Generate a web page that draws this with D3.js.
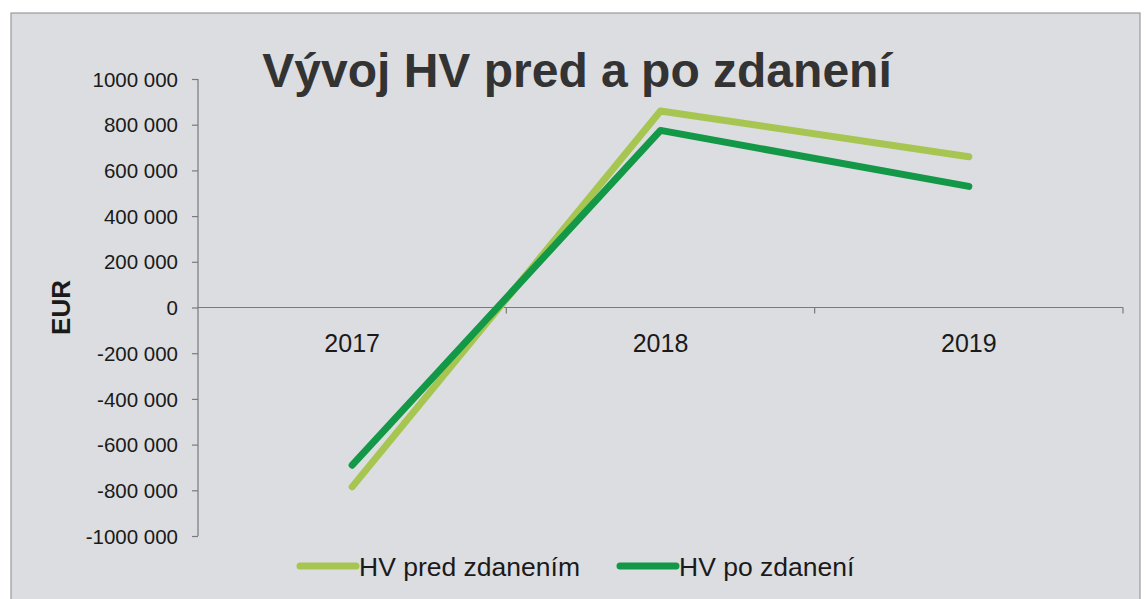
<!doctype html>
<html>
  <head>
    <meta charset="utf-8">
    <script src="https://cdnjs.cloudflare.com/ajax/libs/d3/7.8.5/d3.min.js"></script>
    <style>
      body { margin: 0; background: #fff; }
      text { font-family: "Liberation Sans", Arial, sans-serif; fill: #1a1a1a; }
      .title { font-size: 48px; font-weight: bold; fill: #333; text-anchor: middle; }
      .ylab { font-size: 20.5px; text-anchor: end; }
      .year { font-size: 25px; text-anchor: middle; }
      .legend text { font-size: 26.5px; }
      .axis line, .axis path { stroke: #7a7a7a; stroke-width: 1.2px; fill: none; }
    </style>
  </head>
  <body>
    <svg width="1146" height="599"></svg>
    <script>
      var years = ["2017", "2018", "2019"];
      var seriesNames = ["HV pred zdanením", "HV po zdanení"];
      var hvPred = [-785000, 860000, 660000];
      var hvPo = [-690000, 775000, 530000];
      var yTicks = [1000000, 800000, 600000, 400000, 200000, 0, -200000, -400000, -600000, -800000, -1000000];
      var yTickLabels = ["1000 000", "800 000", "600 000", "400 000", "200 000", "0",
                         "-200 000", "-400 000", "-600 000", "-800 000", "-1000 000"];
      var colors = ["#a6c651", "#129847"];

      var svg = d3.select("svg");

      // scanned page frame
      svg.append("rect")
        .attr("x", 11).attr("y", 13)
        .attr("width", 1129).attr("height", 600)
        .attr("fill", "#dcdde0")
        .attr("stroke", "#9a9a9a").attr("stroke-width", 1.2);

      var x = d3.scaleBand().domain(years).range([198, 1123]);
      var y = d3.scaleLinear().domain([-1000000, 1000000]).range([536, 79]);

      svg.append("text").attr("class", "title")
        .attr("x", 577).attr("y", 87)
        .text("Vývoj HV pred a po zdanení");

      // y axis
      var yAxis = svg.append("g").attr("class", "axis")
        .attr("transform", "translate(198,0)")
        .call(d3.axisLeft(y).tickValues(yTicks).tickSize(6).tickSizeOuter(0)
          .tickFormat((d, i) => yTickLabels[i]));
      yAxis.selectAll("text").attr("class", "ylab").attr("x", -20).attr("dy", "0.35em");
      yAxis.select(".domain").attr("d", `M0,${y(1000000)}V${y(-1000000)}`);

      svg.append("text")
        .attr("transform", `translate(70,${y(0)}) rotate(-90)`)
        .attr("text-anchor", "middle")
        .style("font-size", "26px").style("font-weight", "bold")
        .text("EUR");

      // x axis along zero
      var xg = svg.append("g").attr("class", "axis");
      xg.append("line")
        .attr("x1", x.range()[0]).attr("x2", x.range()[1])
        .attr("y1", y(0)).attr("y2", y(0));
      var bounds = years.map(d => x(d)).concat([x.range()[1]]).slice(1);
      xg.selectAll("line.tick").data(bounds).enter().append("line")
        .attr("class", "tick")
        .attr("x1", d => d).attr("x2", d => d)
        .attr("y1", y(0)).attr("y2", y(0) + 6);
      svg.selectAll("text.year").data(years).enter().append("text")
        .attr("class", "year")
        .attr("x", d => x(d) + x.bandwidth() / 2)
        .attr("y", y(0) + 44)
        .text(d => d);

      var line = d3.line()
        .x((d, i) => x(years[i]) + x.bandwidth() / 2)
        .y(d => y(d));

      [hvPred, hvPo].forEach((s, k) => {
        svg.append("path")
          .datum(s)
          .attr("d", line)
          .attr("fill", "none")
          .attr("stroke", colors[k])
          .attr("stroke-width", 7)
          .attr("stroke-linecap", "round")
          .attr("stroke-linejoin", "round");
      });

      // legend
      var legX = [300, 620];
      var lg = svg.append("g").attr("class", "legend");
      seriesNames.forEach((n, k) => {
        lg.append("line")
          .attr("x1", legX[k]).attr("x2", legX[k] + 56)
          .attr("y1", 566).attr("y2", 566)
          .attr("stroke", colors[k]).attr("stroke-width", 7)
          .attr("stroke-linecap", "round");
        lg.append("text")
          .attr("x", legX[k] + 59).attr("y", 576)
          .text(n);
      });
    </script>
  </body>
</html>
